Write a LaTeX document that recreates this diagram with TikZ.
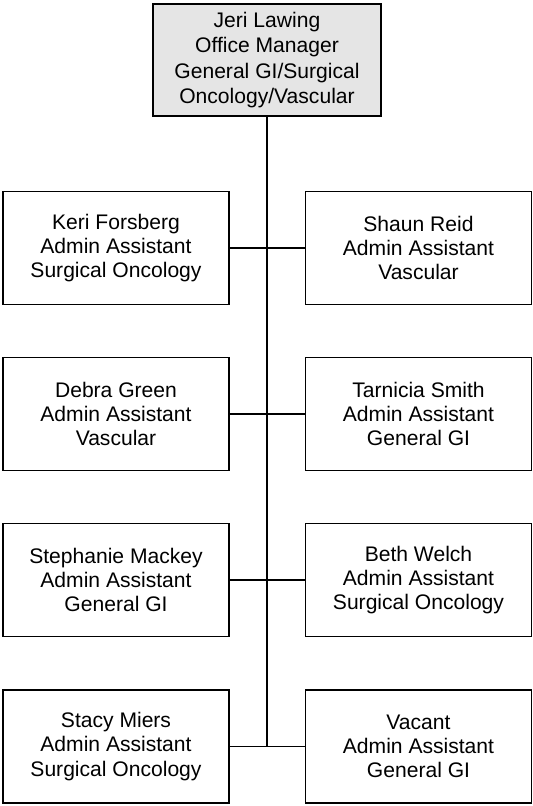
\documentclass[tikz,border=0pt]{standalone}
\usepackage{fontspec}
\setmainfont{Liberation Sans}
\tikzset{
    person/.style={draw, line width=0.75pt, minimum width=4.52cm, minimum height=2.26cm,
        align=center, inner sep=2pt, font=\fontsize{12}{13.8}\selectfont},
    manager/.style={person, fill=gray!20, minimum width=4.56cm, minimum height=2.24cm,
        font=\fontsize{12}{14.4}\selectfont},
    trunk/.style={line width=1.5pt},
    branch/.style={line width=0.75pt},
}
\begin{document}
\begin{tikzpicture}[x=0.02cm,y=-0.02cm]
    \useasboundingbox (0,0) rectangle (533,806);

    %office manager
    \node[manager] (jeri) at (267,60) {Jeri Lawing\\Office Manager\\General GI/Surgical\\Oncology/Vascular};
    %left column
    \node[person] (keri) at (116,248) {Keri Forsberg\\Admin Assistant\\Surgical Oncology};
    \node[person] (debra) at (116,414) {Debra Green\\Admin Assistant\\Vascular};
    \node[person] (stephanie) at (116,580) {Stephanie Mackey\\Admin Assistant\\General GI};
    \node[person] (stacy) at (116,746.5) {Stacy Miers\\Admin Assistant\\Surgical Oncology};
    %right column
    \node[person] (shaun) at (418.5,248) {Shaun Reid\\Admin Assistant\\Vascular};
    \node[person] (tarnicia) at (418.5,414) {Tarnicia Smith\\Admin Assistant\\General GI};
    \node[person] (beth) at (418.5,580) {Beth Welch\\Admin Assistant\\Surgical Oncology};
    \node[person] (vacant) at (418.5,746.5) {Vacant\\Admin Assistant\\General GI};
    %trunk line
    \coordinate (bottom) at (jeri.south |- stacy.east);
    \draw[trunk] (jeri.south) -- (bottom);
    %branches
    \draw[branch] (keri.east) -- (shaun.west);
    \draw[branch] (debra.east) -- (tarnicia.west);
    \draw[branch] (stephanie.east) -- (beth.west);
    \draw[branch] (stacy.east) -- (vacant.west);

\end{tikzpicture}
\end{document}
